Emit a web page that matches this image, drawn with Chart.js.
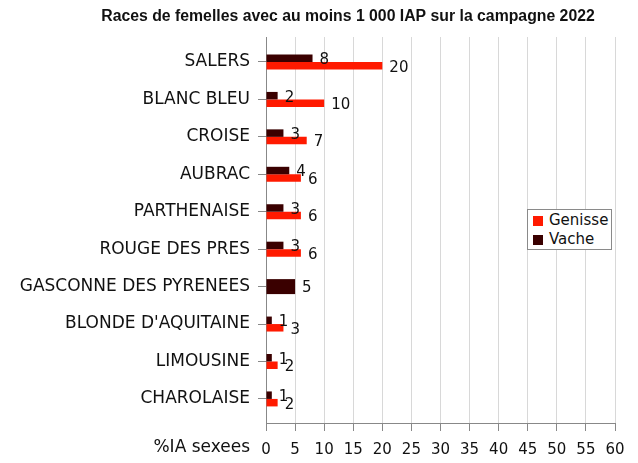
<!DOCTYPE html>
<html>
<head>
<meta charset="utf-8">
<script src="https://cdn.jsdelivr.net/npm/chart.js@4/dist/chart.umd.min.js"></script>
<style>
  body { margin: 0; background: #fff; }
  #wrap { position: relative; width: 638px; height: 463px; }
  #legend {
    position: absolute; left: 527px; top: 209px; width: 85px; height: 41px;
    border: 1px solid #8a8a8a; background: #fff; box-sizing: border-box;
    font: 15px "DejaVu Sans", sans-serif; color: #111; padding: 1px 0 0 5px;
  }
  #legend div { height: 19px; line-height: 19px; white-space: nowrap; }
  #legend span { display: inline-block; width: 10px; height: 10px; margin-right: 6px; vertical-align: -1px; }
</style>
</head>
<body>
<div id="wrap">
  <canvas id="chart" width="638" height="463"></canvas>
  <div id="legend">
    <div><span style="background:#ff1a00"></span>Genisse</div>
    <div><span style="background:#3a0000"></span>Vache</div>
  </div>
</div>
<script>
// data
const races = ["SALERS", "BLANC BLEU", "CROISE", "AUBRAC", "PARTHENAISE", "ROUGE DES PRES",
  "GASCONNE DES PYRENEES", "BLONDE D'AQUITAINE", "LIMOUSINE", "CHAROLAISE"];
const vache = [8, 2, 3, 4, 3, 3, 5, 1, 1, 1];
const genisse = [20, 10, 7, 6, 6, 6, null, 3, 2, 2];
const xTicks = [0, 5, 10, 15, 20, 25, 30, 35, 40, 45, 50, 55, 60];
const titre = "Races de femelles avec au moins 1 000 IAP sur la campagne 2022";

const FONT = "DejaVu Sans";

// numbers written next to each bar
const barLabels = {
  id: "barLabels",
  afterDatasetsDraw(chart) {
    const ctx = chart.ctx;
    ctx.save();
    ctx.font = "15px " + FONT;
    ctx.fillStyle = "#111";
    ctx.textAlign = "left";
    ctx.textBaseline = "middle";
    chart.data.datasets.forEach((ds, i) => {
      chart.getDatasetMeta(i).data.forEach((bar, j) => {
        if (ds.data[j] == null) return;
        ctx.fillText(String(ds.data[j]), bar.x + 7, bar.y + 2);
      });
    });
    ctx.restore();
  }
};

// title and "%IA sexees" (left of the x tick labels)
const extraText = {
  id: "extraText",
  afterDraw(chart) {
    const ctx = chart.ctx;
    const xs = chart.scales.x;
    ctx.save();
    ctx.fillStyle = "#111";
    ctx.textBaseline = "middle";
    ctx.textAlign = "center";
    ctx.font = "bold 15.8px Liberation Sans";
    ctx.fillText(titre, 348, 17);
    ctx.textAlign = "right";
    ctx.font = "17px " + FONT;
    ctx.fillText("%IA sexees", chart.chartArea.left - 16, xs.top + 25);
    ctx.restore();
  }
};

new Chart(document.getElementById("chart"), {
  type: "bar",
  data: {
    labels: races,
    datasets: [
      { label: "Vache", data: vache, backgroundColor: "#3a0000" },
      { label: "Genisse", data: genisse, backgroundColor: "#ff1a00" }
    ]
  },
  options: {
    indexAxis: "y",
    responsive: false,
    animation: false,
    skipNull: true,
    categoryPercentage: 0.40,
    barPercentage: 1.0,
    layout: { padding: { left: 0, right: 23, top: 37, bottom: 0 } },
    plugins: {
      legend: { display: false },
      tooltip: { enabled: false },
      title: { display: false }
    },
    scales: {
      x: {
        min: 0,
        max: 60,
        afterBuildTicks(scale) { scale.ticks = xTicks.map(v => ({ value: v })); },
        afterFit(scale) { scale.height = 40; },
        border: { color: "#888" },
        grid: { color: "#d8d8d8", tickColor: "#888", tickLength: 8 },
        ticks: { color: "#111", font: { family: FONT, size: 15 }, padding: 10, maxRotation: 0 }
      },
      y: {
        // the categories sit a little higher than a plain even split
        afterBuildTicks(scale) { scale._startValue = -0.667; scale._valueRange = 10.31; },
        afterFit(scale) { scale.width = 266; },
        border: { color: "#888" },
        grid: { offset: false, drawOnChartArea: false, tickColor: "#888", tickLength: 8 },
        ticks: { color: "#111", font: { family: FONT, size: 17 }, padding: 8 }
      }
    }
  },
  plugins: [barLabels, extraText]
});
</script>
</body>
</html>
